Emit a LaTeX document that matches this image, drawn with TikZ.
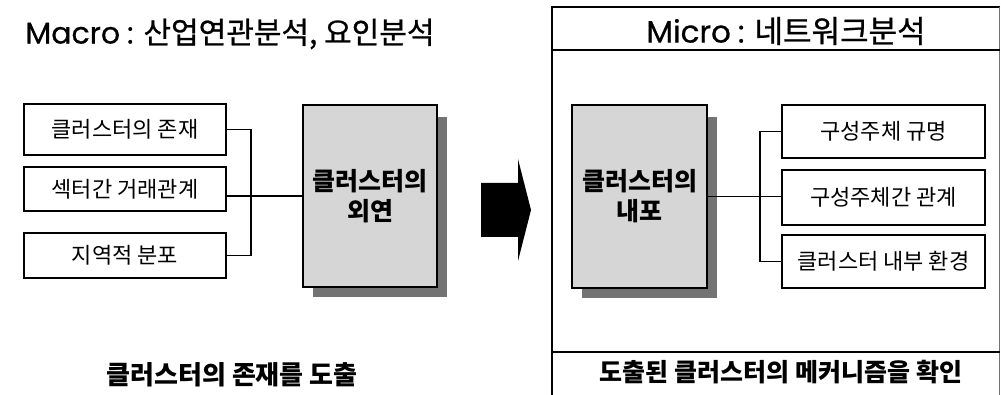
\documentclass[tikz,border=0pt]{standalone}
\usepackage{fontspec}
\setmainfont{Noto Sans CJK KR}
\newfontfamily\lat[FakeBold=0.6]{Poppins}
\newfontfamily\krmed[FakeBold=0.8]{Noto Sans CJK KR}
\begin{document}
\begin{tikzpicture}[x=1pt,y=-1pt,
  smallbox/.style={draw, line width=1.3pt, minimum width=202pt, inner sep=0pt,
    font=\fontsize{22}{22}\selectfont},
  bigbox/.style={draw, line width=1.3pt, fill=black!16, minimum width=134pt, minimum height=182pt,
    inner sep=0pt, align=center, font=\fontsize{25}{30}\selectfont\bfseries},
  shadowbox/.style={fill=black!55},
  conn/.style={line width=1.3pt},
  frame/.style={line width=2.6pt},
  title/.style={inner sep=0pt, anchor=center}
]
\useasboundingbox (0,0) rectangle (1001,395);

% ---- left: Macro ----
\node[title] (T1) at (230,34) {{\lat\fontsize{30}{30}\selectfont Macro\hspace{7pt}:}\hspace{10pt}{\krmed\fontsize{30}{30}\selectfont 산업연관분석, 요인분석}};

\node[smallbox, minimum height=51pt] (L1) at (125,129.5) {클러스터의 존재};
\node[smallbox, minimum height=44pt] (L2) at (125,189) {섹터간 거래관계};
\node[smallbox, minimum height=45pt] (L3) at (125,255.5) {지역적 분포};

\fill[shadowbox] (313,117) rectangle (447,297);
\node[bigbox] (BL) at (370,196) {클러스터의\\외연};

\coordinate (J) at (251,196);
\draw[conn] (L1.east) -| (J) |- (L3.east);
\draw[conn] (BL.west) -- (BL.west -| L2.east);

\node[title, font=\fontsize{26}{26}\selectfont\bfseries] (B1) at (232,375) {클러스터의 존재를 도출};

% ---- arrow ----
\fill[black] (481,183) -- (518,183) -- (518,159) -- (531,210) -- (518,261) -- (518,237) -- (481,237) -- cycle;

% ---- right: Micro ----
\draw[frame] (1000,7) -- (552,7) -- (552,398);
\draw[line width=1pt, black!55] (999.5,7) -- (999.5,395);
\draw[frame] (552,50) -- (1000,50);
\draw[frame] (552,352) -- (1000,352);

\node[title] (T2) at (786,31) {{\lat\fontsize{31}{31}\selectfont Micro\hspace{7pt}:}\hspace{10pt}{\krmed\fontsize{31}{31}\selectfont 네트워크분석}};

\fill[shadowbox] (582,117) rectangle (717,298);
\node[bigbox, minimum width=135pt, minimum height=183pt] (BR) at (639.5,196.5) {클러스터의\\내포};

\node[smallbox, minimum width=203pt, minimum height=53pt] (R1) at (883.5,131.5) {구성주체 규명};
\node[smallbox, minimum width=203pt, minimum height=55pt] (R2) at (883.5,197.5) {구성주체간 관계};
\node[smallbox, minimum width=203pt, minimum height=53pt] (R3) at (883.5,261.5) {클러스터 내부 환경};

\coordinate (K) at (760,197);
\draw[conn] (R1.west) -| (K) |- (R3.west);
\draw[conn] (BR.east) -- (BR.east -| R2.west);

\node[title, font=\fontsize{25}{25}\selectfont\bfseries] (B2) at (781,372) {도출된 클러스터의 메커니즘을 확인};
\end{tikzpicture}
\end{document}
